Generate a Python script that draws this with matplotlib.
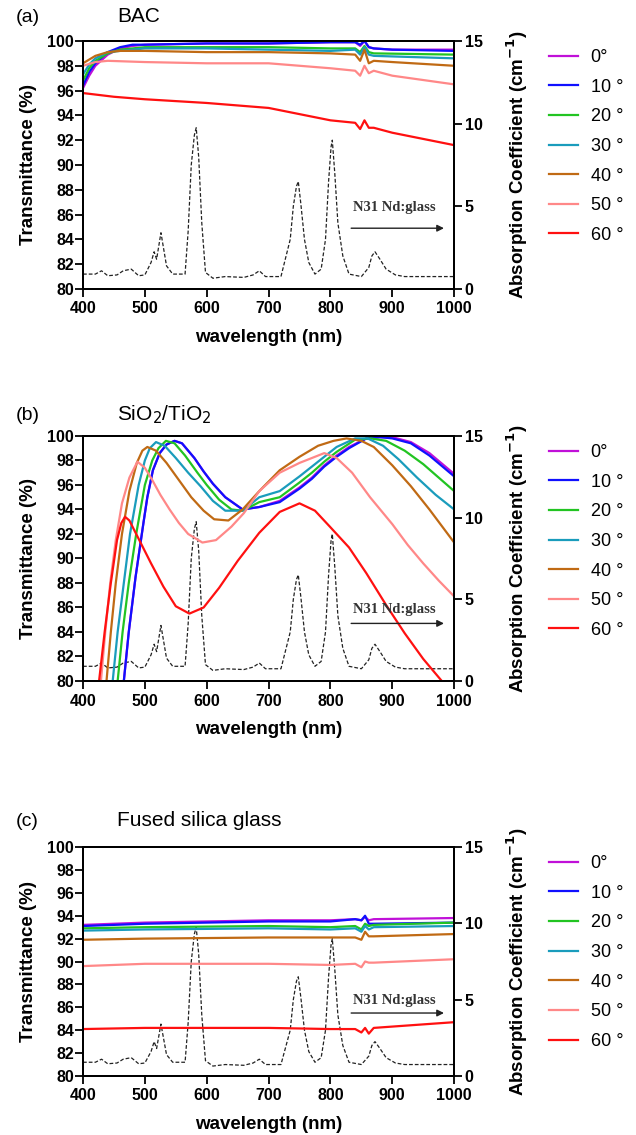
import numpy as np
import matplotlib
matplotlib.use('Agg')
import matplotlib.pyplot as plt

plt.rcParams['font.family'] = ['Liberation Sans', 'DejaVu Sans']

# angles / legend
angle_labels = ['0°', '10 °', '20 °', '30 °', '40 °', '50 °', '60 °']
colors = ['#c010d8', '#1010ff', '#22c422', '#1a9cbc', '#c06a14', '#ff8888', '#ff1010']

# Nd:glass absorption spectrum (right axis, cm^-1)
abs_wl = [400, 420, 430, 440, 455, 465, 478, 490, 500, 510, 515, 519, 526, 535, 545,
          565, 570, 575, 580, 583, 587, 592, 598, 610, 630, 660, 675, 685, 695, 720,
          735, 740, 745, 748, 752, 758, 765, 775, 785, 792, 797, 801, 803, 807, 812,
          820, 830, 850, 862, 867, 872, 880, 890, 905, 920, 1000]
abs_val = [0.9, 0.9, 1.1, 0.8, 0.85, 1.1, 1.2, 0.8, 0.85, 1.6, 2.25, 1.8, 3.4, 1.4, 0.9,
           0.9, 3.5, 7.5, 9.3, 9.75, 8.0, 4.0, 1.0, 0.65, 0.75, 0.7, 0.85, 1.1, 0.75, 0.75,
           3.0, 5.0, 6.2, 6.5, 5.2, 3.0, 1.6, 0.9, 1.2, 3.0, 6.5, 8.6, 9.0, 7.0, 4.0,
           2.0, 0.9, 0.75, 1.3, 2.0, 2.25, 1.8, 1.2, 0.85, 0.75, 0.75]

# (a) BAC
bac_wl = [[400, 410, 420, 440, 460, 480, 500, 600, 700, 800, 840, 848, 855, 862, 870, 900, 1000],
          [400, 410, 420, 440, 460, 480, 500, 600, 700, 800, 840, 848, 855, 862, 870, 900, 1000],
          [400, 410, 420, 440, 460, 500, 600, 700, 800, 840, 848, 855, 862, 870, 1000],
          [400, 410, 420, 440, 460, 500, 600, 700, 800, 840, 848, 855, 862, 870, 1000],
          [400, 420, 440, 460, 500, 600, 700, 800, 840, 848, 855, 862, 870, 900, 1000],
          [400, 420, 440, 500, 600, 700, 800, 840, 848, 855, 862, 870, 900, 1000],
          [400, 450, 500, 600, 700, 750, 800, 840, 848, 855, 862, 870, 900, 1000]]
bac_t = [[96.2, 97.2, 98.0, 98.9, 99.4, 99.6, 99.7, 99.8, 99.8, 99.9, 99.9, 99.6, 100.0, 99.5, 99.4, 99.3, 99.3],
         [96.4, 97.5, 98.2, 99.1, 99.5, 99.7, 99.7, 99.8, 99.8, 99.9, 99.9, 99.7, 100.0, 99.5, 99.4, 99.3, 99.2],
         [96.8, 97.8, 98.4, 99.0, 99.3, 99.5, 99.5, 99.5, 99.4, 99.4, 99.1, 99.6, 99.1, 99.0, 98.9],
         [97.3, 98.1, 98.6, 99.1, 99.2, 99.4, 99.4, 99.3, 99.2, 99.3, 98.9, 99.5, 98.9, 98.8, 98.6],
         [98.2, 98.8, 99.1, 99.2, 99.2, 99.1, 99.1, 99.0, 98.9, 98.4, 99.3, 98.2, 98.4, 98.3, 98.0],
         [98.0, 98.3, 98.4, 98.3, 98.2, 98.2, 97.8, 97.6, 97.2, 98.0, 97.4, 97.6, 97.2, 96.5],
         [95.8, 95.5, 95.3, 95.0, 94.6, 94.1, 93.6, 93.4, 92.9, 93.6, 93.0, 93.0, 92.6, 91.6]]

# (b) SiO2/TiO2
sio_wl = [[462, 466, 474, 485, 498, 504, 513, 524, 535, 548, 560, 580, 595, 610, 630, 658, 685, 718, 750, 770, 790, 810, 830, 858, 880, 900, 930, 960, 1000],
          [462, 466, 474, 485, 498, 504, 513, 524, 535, 548, 560, 580, 595, 610, 630, 658, 685, 718, 750, 770, 790, 810, 830, 858, 880, 900, 930, 960, 1000],
          [452, 456, 464, 474, 486, 500, 512, 522, 534, 548, 565, 585, 600, 620, 640, 658, 685, 718, 750, 770, 790, 810, 840, 865, 890, 920, 950, 975, 1000],
          [444, 448, 456, 466, 476, 490, 500, 508, 518, 532, 550, 570, 590, 610, 630, 658, 685, 718, 750, 770, 790, 810, 840, 860, 885, 910, 940, 970, 1000],
          [434, 438, 445, 453, 463, 475, 487, 496, 504, 518, 535, 555, 575, 595, 612, 635, 658, 685, 718, 750, 780, 805, 826, 850, 870, 900, 930, 960, 1000],
          [425, 429, 436, 444, 453, 463, 475, 488, 500, 512, 525, 540, 555, 570, 593, 615, 640, 660, 685, 718, 750, 770, 790, 810, 835, 864, 900, 925, 950, 975, 1000],
          [422, 426, 435, 445, 455, 462, 468, 475, 490, 510, 530, 550, 572, 595, 620, 650, 685, 718, 750, 775, 799, 830, 858, 890, 920, 950, 980, 990]]
sio_t = [[78, 80, 84, 88.5, 93.0, 95.0, 97.2, 98.6, 99.3, 99.6, 99.4, 98.2, 97.1, 96.1, 95.0, 94.0, 94.2, 94.7, 95.8, 96.6, 97.6, 98.4, 99.1, 99.8, 99.9, 99.9, 99.5, 98.6, 96.9],
         [78, 80, 84, 88.5, 93.0, 95.0, 97.2, 98.6, 99.3, 99.6, 99.4, 98.2, 97.1, 96.1, 95.0, 94.0, 94.2, 94.6, 95.7, 96.5, 97.5, 98.3, 99.0, 99.8, 99.9, 99.8, 99.4, 98.4, 96.7],
         [78, 80, 84, 88, 92, 96.0, 98.0, 99.0, 99.6, 99.4, 98.4, 97.0, 96.0, 94.8, 94.0, 93.9, 94.6, 95.0, 96.2, 97.0, 97.9, 98.7, 99.7, 99.8, 99.6, 98.8, 97.7, 96.6, 95.5],
         [78, 80, 84, 88, 92, 96.0, 98.0, 99.0, 99.5, 99.2, 98.2, 97.0, 95.9, 94.7, 93.9, 93.9, 95.0, 95.5, 96.7, 97.5, 98.3, 99.1, 99.8, 99.8, 99.2, 98.1, 96.6, 95.2, 94.0],
         [78, 80, 84, 88, 92, 95.5, 97.8, 98.8, 99.1, 98.8, 97.8, 96.4, 95.0, 93.9, 93.2, 93.1, 94.0, 95.5, 97.2, 98.3, 99.2, 99.6, 99.8, 99.6, 99.1, 97.6, 95.9, 94.0, 91.3],
         [78, 80, 84, 88, 91.5, 94.5, 96.6, 97.9, 97.4, 96.4, 95.2, 94.0, 92.9, 92.0, 91.3, 91.5, 92.6, 93.7, 95.5, 97.0, 97.8, 98.2, 98.6, 98.2, 97.0, 95.0, 92.8, 91.1, 89.6, 88.2, 86.9],
         [76, 80, 84, 88, 91.5, 92.9, 93.4, 93.1, 91.6, 89.6, 87.7, 86.1, 85.5, 86.0, 87.6, 89.8, 92.1, 93.8, 94.5, 93.9, 92.6, 90.9, 88.8, 86.2, 83.9, 81.8, 80.0, 79.0]]

# (c) Fused silica glass
fs_wl = [[400, 500, 700, 800, 840, 850, 856, 862, 870, 1000],
         [400, 500, 700, 800, 840, 850, 856, 862, 870, 1000],
         [400, 500, 700, 800, 840, 850, 856, 862, 870, 1000],
         [400, 500, 700, 800, 840, 850, 856, 862, 870, 1000],
         [400, 500, 700, 800, 840, 850, 856, 862, 870, 1000],
         [400, 500, 700, 800, 840, 850, 856, 862, 870, 1000],
         [400, 500, 700, 800, 840, 850, 856, 862, 870, 1000]]
fs_t = [[93.2, 93.4, 93.6, 93.6, 93.7, 93.6, 93.9, 93.6, 93.7, 93.8],
        [93.1, 93.3, 93.5, 93.5, 93.7, 93.6, 94.0, 93.3, 93.3, 93.4],
        [92.9, 93.0, 93.1, 93.0, 93.1, 92.8, 93.3, 93.1, 93.2, 93.4],
        [92.7, 92.8, 92.9, 92.8, 92.9, 92.6, 93.1, 92.8, 93.0, 93.1],
        [91.9, 92.0, 92.1, 92.1, 92.1, 91.9, 92.6, 92.2, 92.2, 92.4],
        [89.6, 89.8, 89.8, 89.7, 89.8, 89.5, 90.0, 89.9, 89.9, 90.2],
        [84.1, 84.2, 84.2, 84.1, 84.1, 83.8, 84.2, 83.7, 84.2, 84.7]]

panels = [
    ('(a)', 'BAC', bac_wl, bac_t, [0.1305, 0.7454, 0.5836, 0.2185], 1 - 17 / 1135, 86.6, 84.9),
    ('(b)', 'SiO$_2$/TiO$_2$', sio_wl, sio_t, [0.1305, 0.4000, 0.5836, 0.2159], 1 - 415 / 1135, 85.8, 84.7),
    ('(c)', 'Fused silica glass', fs_wl, fs_t, [0.1305, 0.0520, 0.5836, 0.2017], 1 - 821 / 1135, 86.6, 85.5),
]

fig = plt.figure(figsize=(6.36, 11.35), dpi=100)

for tag, title, wls, ts, pos, ty, text_y, arrow_y in panels:
    ax = fig.add_axes(pos)
    ax2 = ax.twinx()
    ax2.plot(abs_wl, abs_val, color='#222222', lw=0.9, ls=(0, (3, 1.6)), zorder=1)
    ax2.set_ylim(0, 15)
    ax2.set_yticks([0, 5, 10, 15])

    ax.set_zorder(ax2.get_zorder() + 1)
    ax.patch.set_visible(False)
    handles = []
    for i in range(len(ts)):
        h, = ax.plot(wls[i], ts[i], color=colors[i], lw=1.6)
        handles.append(h)

    ax.set_xlim(400, 1000)
    ax.set_ylim(80, 100)
    ax.set_xticks(np.arange(400, 1001, 100))
    ax.set_yticks(np.arange(80, 101, 2))

    for a in (ax, ax2):
        for s in a.spines.values():
            s.set_linewidth(1.4)
        a.tick_params(direction='out', length=5.5, width=1.3, labelsize=11.5)
        for lab in a.get_xticklabels() + a.get_yticklabels():
            lab.set_fontweight('bold')
    ax.tick_params(axis='y', pad=1)
    ax2.tick_params(axis='y', pad=2)

    ax.set_xlabel('wavelength (nm)', fontsize=13.5, fontweight='bold', labelpad=9)
    ax.set_ylabel('Transmittance (%)', fontsize=13.5, fontweight='bold', labelpad=7)
    ax2.set_ylabel('Absorption Coefficient (cm$^{\\mathbf{-1}}$)', fontsize=13.5,
                   fontweight='bold', labelpad=16)

    ax.text(904, text_y, 'N31 Nd:glass', fontsize=10.5, fontweight='bold',
            family='Liberation Serif', ha='center', va='center', color='#333333')
    ax.annotate('', xy=(988, arrow_y), xytext=(829, arrow_y),
                arrowprops=dict(arrowstyle='-|>', color='#222222', lw=1.0,
                                mutation_scale=10))

    fig.text(16 / 636, ty, tag, fontsize=14, ha='left', va='center')
    fig.text(117 / 636, ty, title, fontsize=15, ha='left', va='center')

    ax.legend(handles, angle_labels, loc='upper left',
              bbox_to_anchor=(549 / 636, pos[1] + pos[3] - 8 / 1135),
              bbox_transform=fig.transFigure, frameon=False, fontsize=13,
              handlelength=1.6, handletextpad=0.7, labelspacing=0.7,
              borderpad=0, borderaxespad=0)

fig.savefig('out.png', dpi=100)
